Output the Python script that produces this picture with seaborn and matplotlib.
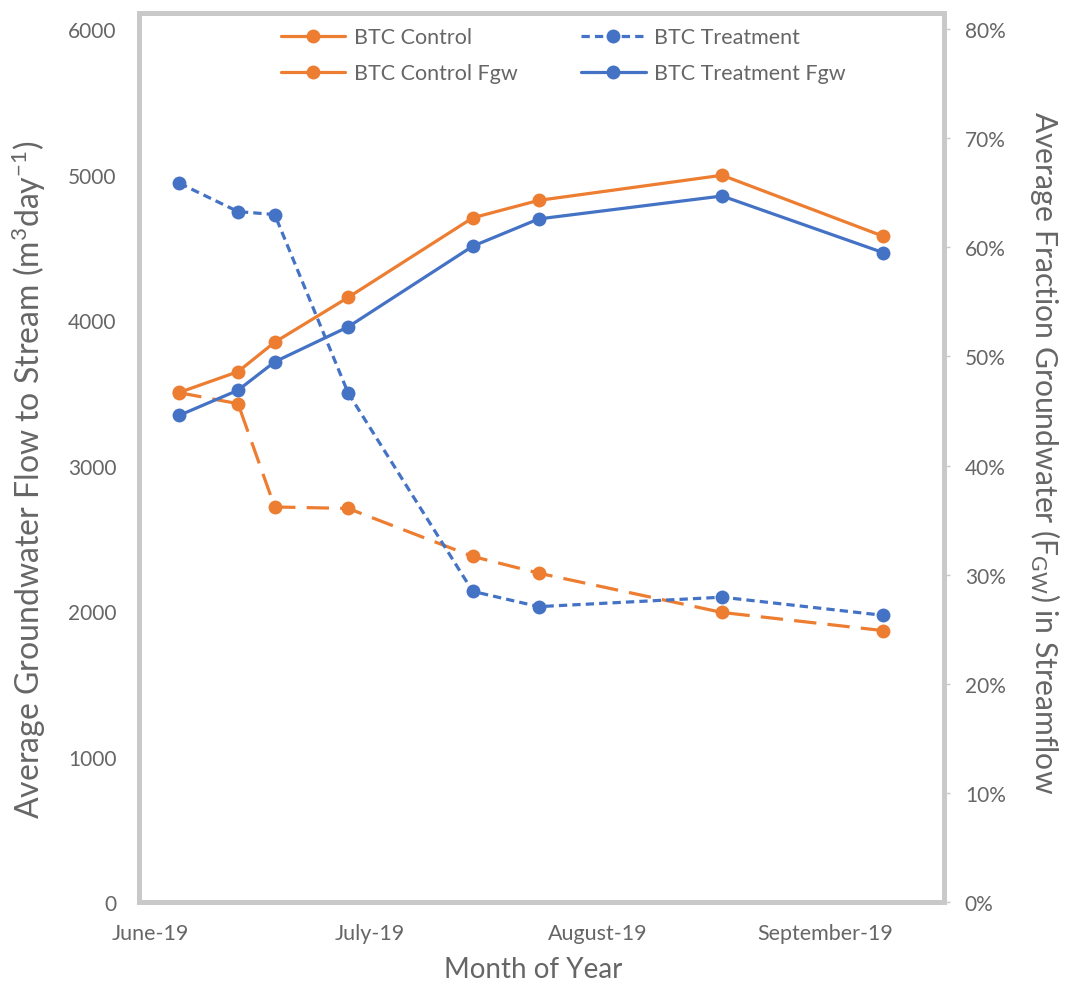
import matplotlib
matplotlib.use("Agg")
import matplotlib.pyplot as plt
import matplotlib.dates as mdates
from matplotlib.lines import Line2D
from matplotlib.ticker import PercentFormatter
import seaborn as sns
import pandas as pd

sns.set_style("white")
plt.rcParams['font.family'] = ['Lato', 'DejaVu Sans']
plt.rcParams['mathtext.default'] = 'regular'

# ---- data ----
dates = pd.to_datetime(["2019-06-05", "2019-06-13", "2019-06-18", "2019-06-28",
                        "2019-07-15", "2019-07-24", "2019-08-18", "2019-09-09"])
btc_control = [3500, 3425, 2715, 2705, 2375, 2260, 1990, 1865]          # m3/day
btc_treatment = [4940, 4745, 4725, 3500, 2135, 2030, 2095, 1970]        # m3/day
btc_control_fgw = [46.7, 48.6, 51.3, 55.4, 62.7, 64.3, 66.6, 61.0]     # %
btc_treatment_fgw = [44.6, 46.9, 49.5, 52.7, 60.1, 62.6, 64.7, 59.5]   # %
month_ticks = pd.to_datetime(["2019-06-01", "2019-07-01", "2019-08-01", "2019-09-01"])

ORANGE = "#ED7D31"
BLUE = "#4472C4"
TXT = "#666666"
FRAME = "#c9c9c9"

fig = plt.figure(figsize=(10.67, 9.87), dpi=100)
ax = fig.add_axes([139/1067, 84/987, 805/1067, 889/987])
ax2 = ax.twinx()

lw = 2.3
ms = 10
sns.lineplot(x=dates, y=btc_control, ax=ax, color=ORANGE, linewidth=lw,
             marker="o", markersize=ms, markeredgewidth=0, legend=False)
ax.lines[-1].set_dashes([7, 3.5])
sns.lineplot(x=dates, y=btc_treatment, ax=ax, color=BLUE, linewidth=lw,
             marker="o", markersize=ms, markeredgewidth=0, legend=False)
ax.lines[-1].set_dashes([2.6, 1.6])
sns.lineplot(x=dates, y=btc_control_fgw, ax=ax2, color=ORANGE, linewidth=lw,
             marker="o", markersize=ms, markeredgewidth=0, legend=False)
sns.lineplot(x=dates, y=btc_treatment_fgw, ax=ax2, color=BLUE, linewidth=lw,
             marker="o", markersize=ms, markeredgewidth=0, legend=False)

# axes limits
ax.set_xlim(pd.Timestamp("2019-05-30 12:00"), pd.Timestamp("2019-09-17 06:00"))
ax.set_ylim(0, 6110)
ax2.set_ylim(0, 81.47)

ax.set_yticks([0, 1000, 2000, 3000, 4000, 5000, 6000])
ax2.set_yticks([0, 10, 20, 30, 40, 50, 60, 70, 80])
ax2.yaxis.set_major_formatter(PercentFormatter(decimals=0))
ax.set_xticks(month_ticks)
ax.xaxis.set_major_formatter(mdates.DateFormatter("%B-%y"))

ax.tick_params(axis='x', length=0, pad=15, labelsize=15.5, labelcolor=TXT)
ax.tick_params(axis='y', length=0, pad=16, labelsize=15, labelcolor=TXT)
ax2.tick_params(axis='y', length=4, width=1, color=FRAME, pad=11, labelsize=15, labelcolor=TXT)

for s in ax.spines.values():
    s.set_color(FRAME)
    s.set_linewidth(3.6)
    s.set_visible(True)
for s in ax2.spines.values():
    s.set_visible(False)

ax.set_xlabel("Month of Year", fontsize=20, color=TXT)
ax.xaxis.set_label_coords(0.49, -0.061)
ax.set_ylabel("Average Groundwater Flow to Stream (m$^{3}$day$^{-1}$)", fontsize=23, color=TXT)
ax.yaxis.set_label_coords(-0.113, 0.476)
ax2.set_ylabel("Average Fraction Groundwater (F$_{GW}$) in Streamflow", fontsize=21.7,
               color=TXT, rotation=270, va='center')
ax2.yaxis.set_label_coords(1.125, 0.507)

handles = [
    Line2D([], [], color=ORANGE, lw=lw, marker="o", markersize=ms, markeredgewidth=0),
    Line2D([], [], color=ORANGE, lw=lw, marker="o", markersize=ms, markeredgewidth=0),
    Line2D([], [], color=BLUE, lw=lw, marker="o", markersize=ms, markeredgewidth=0, dashes=[2.6, 1.6]),
    Line2D([], [], color=BLUE, lw=lw, marker="o", markersize=ms, markeredgewidth=0),
]
labels = ["BTC Control", "BTC Control Fgw", "BTC Treatment", "BTC Treatment Fgw"]
leg = ax2.legend(handles, labels, loc="upper center", bbox_to_anchor=(0.527, 1.006), ncol=2,
                 frameon=False, fontsize=15.5, handlelength=3.0, columnspacing=2.95,
                 labelspacing=0.75, handletextpad=0.4)
for t in leg.get_texts():
    t.set_color(TXT)

fig.savefig("out.png", dpi=100, facecolor="white")
